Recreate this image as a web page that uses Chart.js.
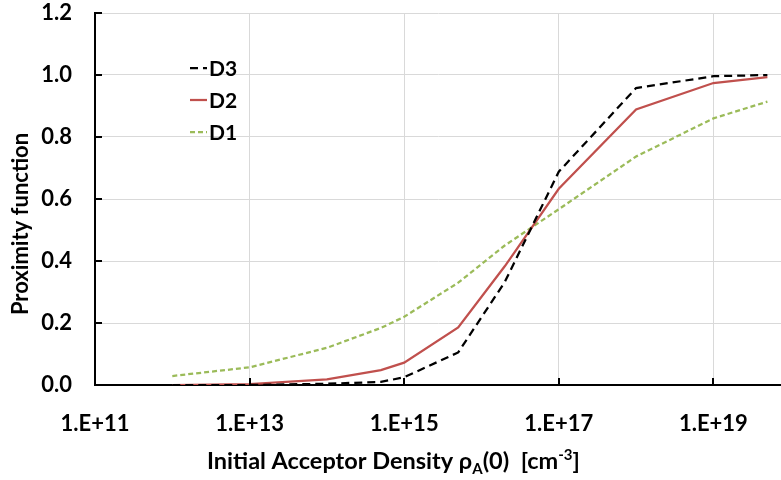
<!DOCTYPE html>
<html>
<head>
<meta charset="utf-8">
<script src="https://cdn.jsdelivr.net/npm/chart.js@4"></script>
<style>
  html,body{margin:0;padding:0;background:#fff}
  canvas{display:block}
</style>
</head>
<body>
<canvas id="ch" width="781" height="480"></canvas>
<script>
// densities [cm^-3]
const density=[1e12,1e13,1e14,5e14,1e15,5e15,2e16,1e17,1e18,1e19,5e19];
const d3=[0,0,0.004,0.010,0.025,0.105,0.332,0.688,0.958,0.996,1.0];
const d2=[0,0.003,0.018,0.048,0.072,0.186,0.383,0.633,0.889,0.974,0.993];
const d1=[0.029,0.057,0.120,0.184,0.220,0.330,0.450,0.567,0.737,0.860,0.914];
const xTicks=[1e11,1e13,1e15,1e17,1e19];
const yTicks=[0,0.2,0.4,0.6,0.8,1.0,1.2];
const yTitle='Proximity function';
// x title pieces: text, baseline shift (+ = down), smaller font
const xTitle=[['Initial Acceptor Density ρ',0,0],['A',5,1],['(0)  [cm',0,0],['-3',-9,1],[']',0,0]];

const FONT="Lato, 'Open Sans', sans-serif";
const pts=a=>a.map((v,i)=>({x:density[i],y:v}));

// Excel-style inward tick marks, axis titles and in-plot legend
const extras={
  id:'extras',
  afterDraw(chart){
    const {ctx,chartArea:a,scales:{x,y}}=chart;
    ctx.save();
    ctx.strokeStyle='#000';ctx.lineWidth=2;
    x.ticks.forEach(t=>{const p=Math.round(x.getPixelForValue(t.value));ctx.beginPath();ctx.moveTo(p,a.bottom);ctx.lineTo(p,a.bottom-7);ctx.stroke();});
    y.ticks.forEach(t=>{const p=Math.round(y.getPixelForValue(t.value));ctx.beginPath();ctx.moveTo(a.left,p);ctx.lineTo(a.left+7,p);ctx.stroke();});
    ctx.fillStyle='#000';
    // y title
    ctx.save();
    ctx.translate(21,224);ctx.rotate(-Math.PI/2);
    ctx.font='bold 22px '+FONT;ctx.textAlign='center';ctx.textBaseline='middle';
    ctx.fillText(yTitle,0,0);
    ctx.restore();
    // x title
    ctx.textBaseline='alphabetic';ctx.textAlign='left';
    let cx=207;const base=469;
    xTitle.forEach(([t,dy,small])=>{
      ctx.font='bold '+(small?15:23.5)+'px '+FONT;
      ctx.fillText(t,cx,base+dy);
      cx+=ctx.measureText(t).width;
    });
    // legend
    const lx=a.left+95, ly=a.top+55, gap=32;
    ctx.font='bold 21px '+FONT;ctx.textBaseline='middle';
    chart.data.datasets.forEach((ds,i)=>{
      const yy=ly+i*gap;
      ctx.strokeStyle=ds.borderColor;ctx.lineWidth=2.25;ctx.setLineDash(ds.borderDash||[]);
      ctx.beginPath();ctx.moveTo(lx,yy);ctx.lineTo(lx+17,yy);ctx.stroke();
      ctx.setLineDash([]);
      ctx.fillText(ds.label,lx+19,yy+1);
    });
    ctx.restore();
  }
};

new Chart(document.getElementById('ch'),{
  type:'line',
  data:{datasets:[
    {label:'D3',data:pts(d3),borderColor:'#000000',borderWidth:2.25,borderDash:[8,5],pointRadius:0,tension:0,order:1},
    {label:'D2',data:pts(d2),borderColor:'#C0504D',borderWidth:2.25,pointRadius:0,tension:0,order:2},
    {label:'D1',data:pts(d1),borderColor:'#9BBB59',borderWidth:2.25,borderDash:[5,3],pointRadius:0,tension:0,order:3}
  ]},
  options:{
    responsive:false,animation:false,
    layout:{padding:{top:13,right:0,left:0,bottom:0}},
    plugins:{legend:{display:false},tooltip:{enabled:false}},
    scales:{
      x:{type:'logarithmic',min:1e11,max:7.5e19,
        afterBuildTicks:s=>{s.ticks=xTicks.map(v=>({value:v}));},
        afterFit:s=>{s.height=95;s.paddingLeft=0;s.paddingRight=0;},
        grid:{color:'#d9d9d9',lineWidth:1,drawTicks:false},
        border:{color:'#000',width:2},
        ticks:{autoSkip:false,maxRotation:0,padding:26,color:'#000',font:{family:FONT,size:22,weight:'bold'},
          callback:v=>'1.E+'+Math.round(Math.log10(v))}},
      y:{min:0,max:1.2,
        afterBuildTicks:s=>{s.ticks=yTicks.map(v=>({value:v}));},
        afterFit:s=>{s.width=95;s.paddingTop=0;s.paddingBottom=0;},
        grid:{color:'#d9d9d9',lineWidth:1,drawTicks:false},
        border:{color:'#000',width:2},
        ticks:{padding:23,color:'#000',font:{family:FONT,size:22,weight:'bold'},callback:v=>v.toFixed(1)}}
    }
  },
  plugins:[extras]
});
</script>
</body>
</html>
